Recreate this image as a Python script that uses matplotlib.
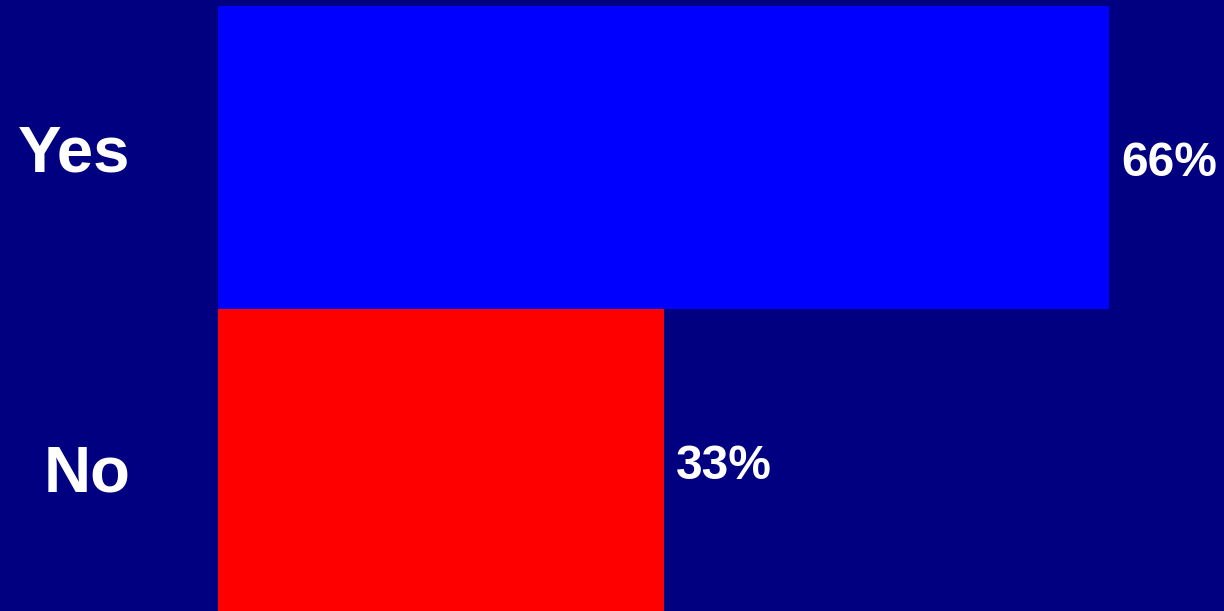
import matplotlib
matplotlib.use("Agg")
import matplotlib.pyplot as plt

categories = ["No", "Yes"]
values = [33, 66]
value_labels = ["33%", "66%"]
bar_colors = ["#FF0000", "#0000FF"]
bg = "#000080"

W, H = 1224, 611
fig = plt.figure(figsize=(W / 100, H / 100), dpi=100, facecolor=bg)
ax = fig.add_axes([218 / W, 0, 1 - 218 / W, 605 / H])
ax.set_facecolor(bg)
ypos = list(range(len(categories)))
ax.barh(ypos, values, height=1.0, color=bar_colors, edgecolor="none")
ax.set_xlim(0, (W - 218) / 13.5)
ax.set_ylim(-0.5, len(categories) - 0.5)
ax.axis("off")

font = "Liberation Sans"
cat_offsets = {"No": -32, "Yes": -14}
for y, cat in zip(ypos, categories):
    ax.annotate(cat, xy=(0, y), xycoords=("axes fraction", "data"),
                xytext=(-88, cat_offsets[cat]), textcoords="offset pixels",
                ha="right", va="baseline", color="white",
                fontsize=47, fontweight="bold", family=font,
                annotation_clip=False)

for y, v, lab in zip(ypos, values, value_labels):
    ax.annotate(lab, xy=(v, y), xycoords="data",
                xytext=(12, -19), textcoords="offset pixels",
                ha="left", va="baseline", color="white",
                fontsize=34.5, fontweight="bold", family=font,
                annotation_clip=False)

fig.savefig("out.png", dpi=100, facecolor=bg)
